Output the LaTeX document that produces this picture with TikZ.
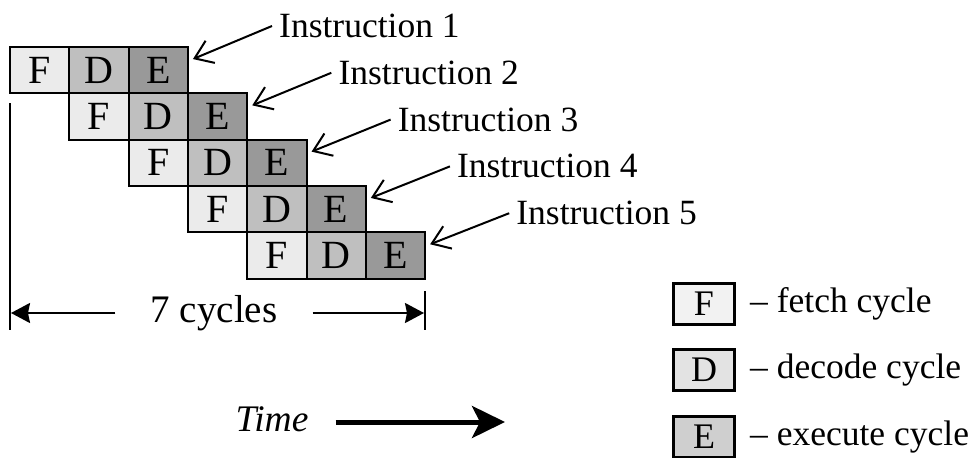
\documentclass[tikz,border=0pt]{standalone}
\usepackage{fontspec}
\setmainfont{Liberation Serif}
\usetikzlibrary{arrows.meta,positioning}
\definecolor{fetchgray}{gray}{0.92}
\definecolor{decodegray}{gray}{0.75}
\definecolor{execgray}{gray}{0.60}
\definecolor{keyF}{gray}{0.95}
\definecolor{keyD}{gray}{0.89}
\definecolor{keyE}{gray}{0.81}
\tikzset{cell/.style={draw, line width=2pt, minimum width=59.3pt, minimum height=46.3pt, inner sep=0pt, font=\fontsize{40}{46}\selectfont}}
\tikzset{F/.style={cell, fill=fetchgray}}
\tikzset{D/.style={cell, fill=decodegray}}
\tikzset{E/.style={cell, fill=execgray}}
\tikzset{instr/.style={anchor=west, inner xsep=7pt, inner ysep=0pt, font=\fontsize{35.5}{42}\selectfont}}
\tikzset{ptr/.style={line width=2pt, -{Straight Barb[length=17pt,width=24pt]}}}
\tikzset{keybox/.style={draw, line width=3pt, minimum width=61pt, minimum height=41pt, inner sep=0pt, font=\fontsize{36}{42}\selectfont}}
\tikzset{keytext/.style={right=14pt, inner sep=0pt, font=\fontsize{35.5}{42}\selectfont}}
\tikzset{dim/.style={line width=2pt, -{Stealth[length=19pt,width=20pt,inset=2pt]}}}

\begin{document}
\begin{tikzpicture}[x=1pt, y=-1pt]
\useasboundingbox (0,0) rectangle (975,458);
% instruction 1
\node[F] (f1) at (39.7,70.2) {F};
\node[D] (d1) at (99,70.2) {D};
\node[E] (e1) at (158.3,70.2) {E};
% instruction 2
\node[F] (f2) at (99,116.5) {F};
\node[D] (d2) at (158.3,116.5) {D};
\node[E] (e2) at (217.6,116.5) {E};
% instruction 3
\node[F] (f3) at (158.3,162.8) {F};
\node[D] (d3) at (217.6,162.8) {D};
\node[E] (e3) at (276.9,162.8) {E};
% instruction 4
\node[F] (f4) at (217.6,209.1) {F};
\node[D] (d4) at (276.9,209.1) {D};
\node[E] (e4) at (336.2,209.1) {E};
% instruction 5
\node[F] (f5) at (276.9,255.4) {F};
\node[D] (d5) at (336.2,255.4) {D};
\node[E] (e5) at (395.5,255.4) {E};

% labels
\node[instr] (i1) at (272,26) {Instruction 1};
\node[instr] (i2) at (331.3,72.8) {Instruction 2};
\node[instr] (i3) at (390.6,119.6) {Instruction 3};
\node[instr] (i4) at (449.9,166.4) {Instruction 4};
\node[instr] (i5) at (509.2,213.2) {Instruction 5};
\draw[ptr] (i1.west) -- ([xshift=4pt,yshift=-13pt]e1.north east);
\draw[ptr] (i2.west) -- ([xshift=4pt,yshift=-13pt]e2.north east);
\draw[ptr] (i3.west) -- ([xshift=4pt,yshift=-13pt]e3.north east);
\draw[ptr] (i4.west) -- ([xshift=4pt,yshift=-13pt]e4.north east);
\draw[ptr] (i5.west) -- ([xshift=4pt,yshift=-13pt]e5.north east);

% 7 cycles
\coordinate (lt) at (10,103);
\coordinate (lb) at (10,330);
\coordinate (rt) at (425,291);
\coordinate (rb) at (425,330);
\draw[line width=2pt] (lt) -- (lb);
\draw[line width=2pt] (rt) -- (rb);
\coordinate (dl) at (11,313);
\coordinate (dr) at (424,313);
\node[inner xsep=35pt, inner ysep=0pt, font=\fontsize{39}{46}\selectfont] (cyc) at (214,313) {7 cycles};
\draw[dim] (cyc.west) -- (dl);
\draw[dim] (cyc.east) -- (dr);

% time
\node[font=\fontsize{37.5}{44}\selectfont\itshape, inner xsep=0pt] (time) at (272,419) {Time};
\coordinate (tend) at (505,422);
\draw[line width=5pt, -{Stealth[length=33pt,width=32pt,inset=8pt]}] ([xshift=27pt]time.east |- tend) -- (tend);

% key
\node[keybox, fill=keyF] (kf) at (704,304) {F};
\node[keybox, fill=keyD] (kd) at (704,370) {D};
\node[keybox, fill=keyE] (ke) at (704,437) {E};
\node[keytext] (tf) [right=14pt of kf] {-- fetch cycle};
\node[keytext] (td) [right=14pt of kd] {-- decode cycle};
\node[keytext] (te) [right=14pt of ke] {-- execute cycle};
\end{tikzpicture}
\end{document}
